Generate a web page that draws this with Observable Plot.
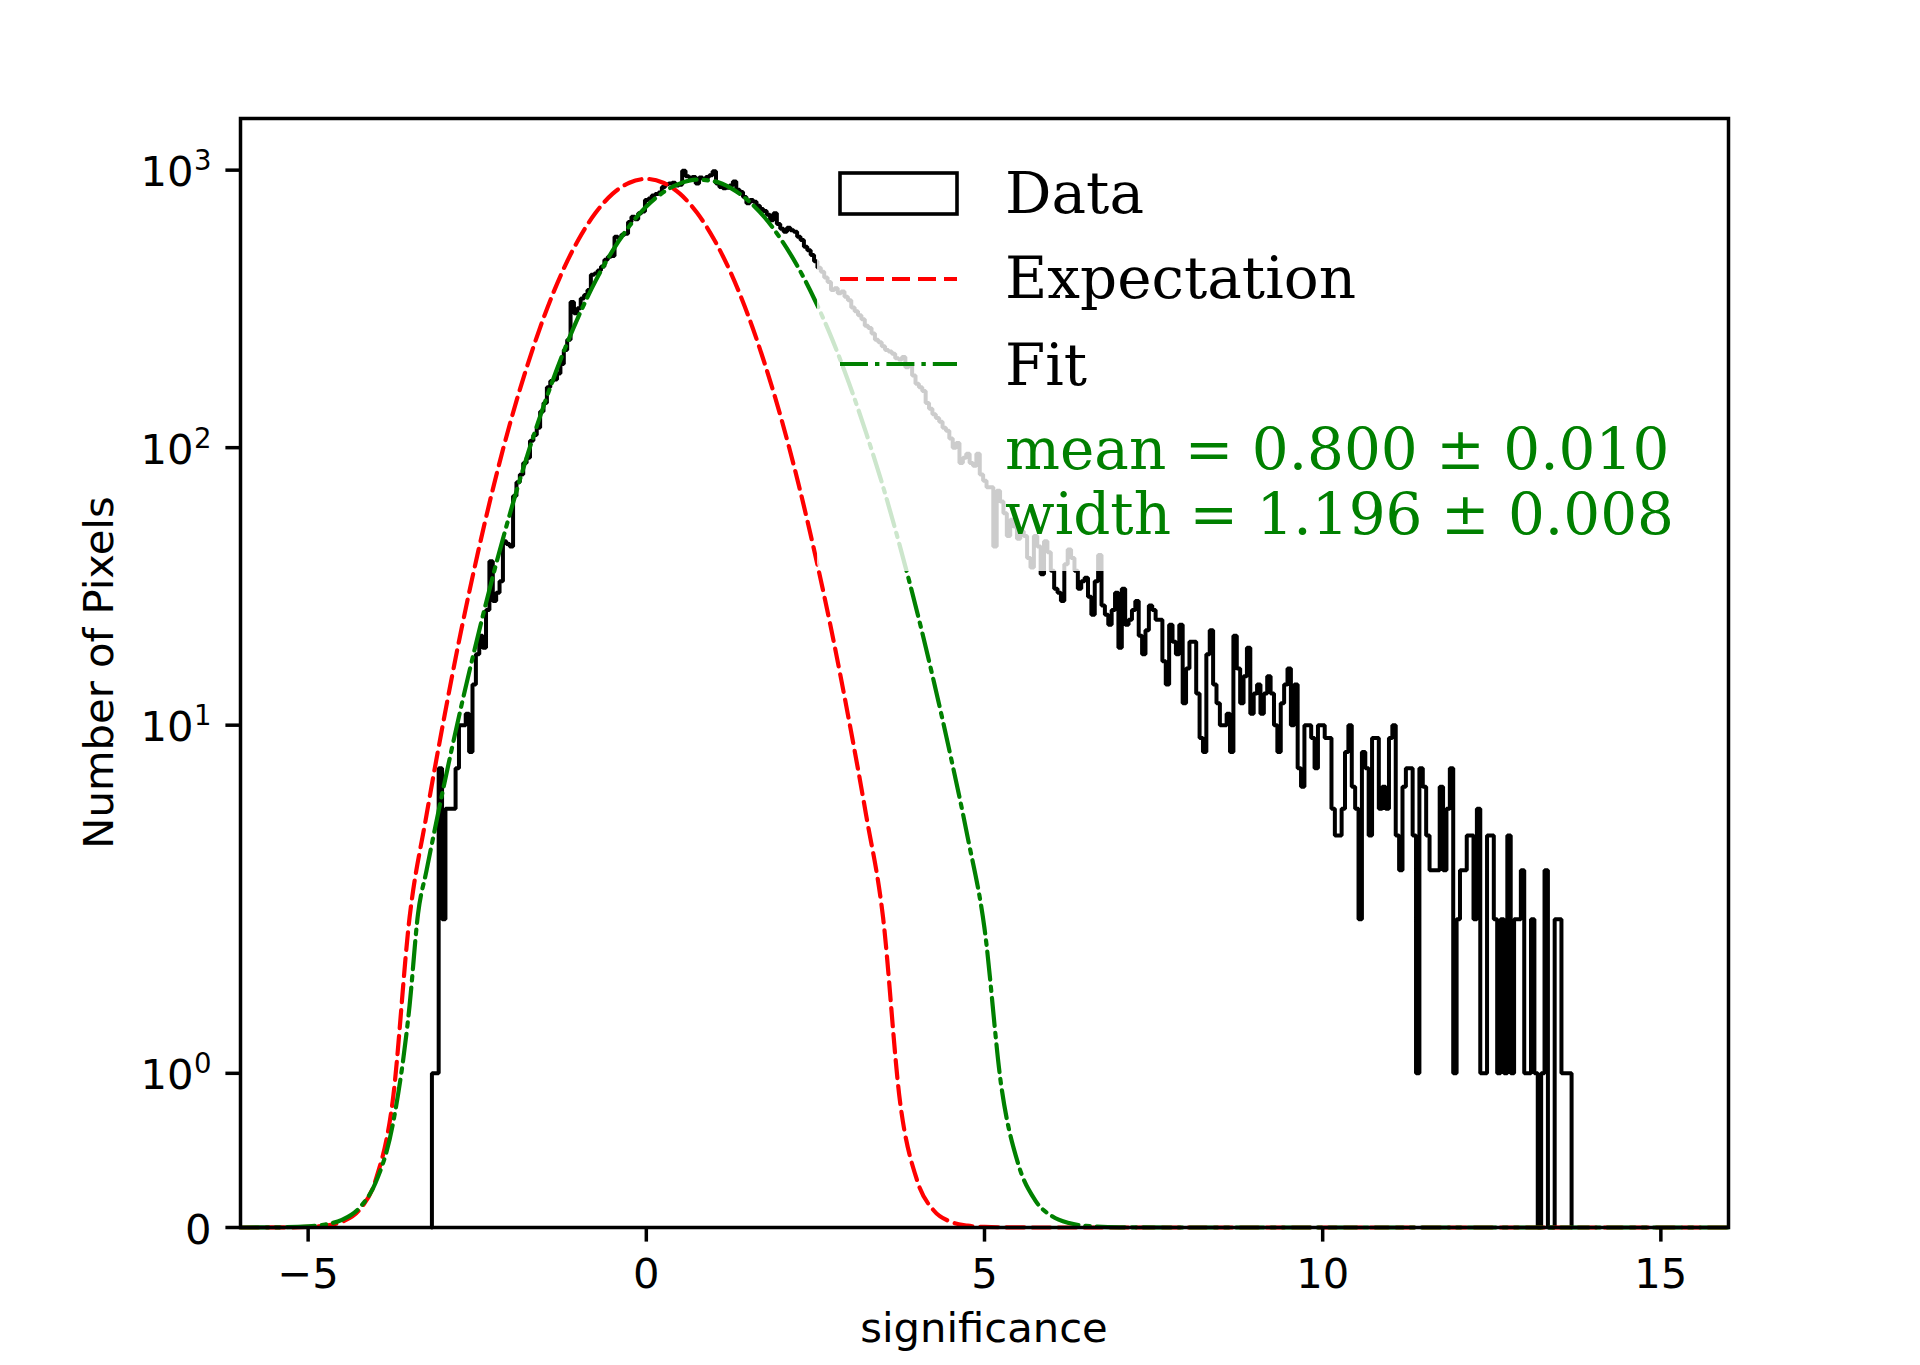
<!DOCTYPE html>
<html>
<head>
<meta charset="utf-8">
<script src="https://cdn.jsdelivr.net/npm/d3@7"></script>
<script src="https://cdn.jsdelivr.net/npm/@observablehq/plot@0.6"></script>
<style>
  html, body { margin: 0; padding: 0; background: #ffffff; }
  #chart svg { display: block; }
</style>
</head>
<body>
<div id="chart"></div>
<script>
// ---------------- data ----------------
const binStart = -3.17;
const binWidth = 0.05;
const counts = [
  1, 1, 7, 2, 5, 5, 5, 7, 10, 10,
  11, 8, 14, 18, 21, 19, 26, 39, 28, 30,
  33, 46, 45, 44, 67, 75, 80, 88, 92, 106,
  111, 118, 135, 145, 165, 174, 176, 185, 200, 225,
  245, 335, 305, 318, 345, 355, 370, 420, 424, 435,
  450, 475, 487, 490, 575, 570, 585, 590, 650, 680,
  665, 700, 710, 780, 790, 810, 820, 830, 870, 890,
  895, 900, 880, 885, 995, 950, 940, 945, 895, 940,
  930, 945, 958, 990, 895, 870, 860, 865, 880, 910,
  850, 835, 800, 760, 780, 770, 745, 725, 712, 690,
  660, 700, 640, 615, 600, 620, 607, 600, 575, 560,
  530, 515, 495, 470, 445, 430, 410, 395, 370, 375,
  360, 365, 350, 340, 320, 310, 300, 290, 275, 270,
  258, 245, 240, 232, 225, 222, 218, 210, 208, 212,
  195, 200, 182, 170, 165, 160, 145, 138, 132, 128,
  124, 118, 115, 108, 100, 104, 88, 92, 95, 88,
  86, 95, 80, 76, 72, 72, 44, 70, 64, 58,
  48, 55, 52, 47, 50, 48, 40, 37, 48, 44,
  35, 46, 42, 36, 31, 30, 28, 38, 43, 40,
  36, 31, 33, 34, 29, 25, 33, 41, 27, 25,
  23, 26, 30, 19, 31, 23, 24, 26, 28, 21,
  18, 22, 27, 26, 24, 24, 17, 14, 23, 20,
  18, 23, 12, 16, 20, 20, 13, 9, 8, 18,
  22, 14, 12, 10, 10, 11, 8, 21, 16, 12,
  15, 19, 11, 13, 14, 11, 13, 15, 13, 10,
  8, 12, 14, 16, 10, 14, 7, 6, 10, 10,
  9, 7, 10, 10, 9, 9, 5, 4, 4, 5,
  8, 10, 6, 5, 2, 8, 7, 4, 9, 9,
  5, 6, 5, 9, 10, 4, 3, 6, 7, 7,
  4, 1, 7, 6, 4, 3, 3, 3, 6, 3,
  5, 7, 1, 2, 3, 3, 4, 4, 2, 5,
  1, 1, 4, 4, 2, 1, 2, 1, 4, 1,
  2, 2, 3, 1, 1, 2, 1, 0, 1, 3,
  0, 0, 2, 2, 1, 1, 1
];

// Expectation curve (red dashed)
const expX = [-6, -5.5, -5, -4.75, -4.5, -4.25, -4, -3.75, -3.5, -3.25, -3, -2.75, -2.5, -2.25, -2, -1.75, -1.5, -1.25, -1, -0.75, -0.5, -0.25,
  0, 0.25, 0.5, 0.75, 1, 1.25, 1.5, 1.75, 2, 2.25, 2.5, 2.75, 3, 3.25, 3.5, 3.75, 4, 4.25, 4.5, 4.75, 5, 5.5, 6, 16];
const expY = [0, 0.0003, 0.0035, 0.012, 0.037, 0.11, 0.31, 0.82, 2.03, 4.74, 10.3, 21.2, 40.8, 74, 126, 201, 302, 426, 564, 702, 821, 901,
  930, 901, 821, 702, 564, 426, 302, 201, 126, 74, 40.8, 21.2, 10.3, 4.74, 2.03, 0.82, 0.31, 0.11, 0.037, 0.012, 0.0035, 0.0003, 0, 0];

// Fit curve (green dash-dot)
const fitX = [-6, -5.5, -5, -4.75, -4.5, -4.25, -4, -3.75, -3.5, -3.375, -3.25, -3, -2.75, -2.5, -2.25, -2, -1.75, -1.5, -1.25, -1, -0.75, -0.5, -0.25,
  0, 0.25, 0.5, 0.75, 1, 1.25, 1.5, 1.75, 2, 2.25, 2.5, 2.75, 3, 3.25, 3.5, 3.75, 4, 4.25, 4.5, 4.75, 5, 5.25, 5.5, 5.75, 6, 6.25, 6.5, 7, 8, 16];
const fitY = [0.0001, 0.0009, 0.0072, 0.0195, 0.05, 0.124, 0.294, 0.665, 1.44, 2.09, 2.99, 5.94, 11.3, 20.5, 35.8, 59.7, 95.3, 145.6, 213, 298, 399, 512, 629,
  740, 832, 896, 924, 912, 862, 779, 675, 559, 444, 337, 245, 170, 113, 72.4, 44.1, 25.8, 14.4, 7.72, 3.96, 1.94, 0.912, 0.41, 0.176, 0.0726, 0.0286, 0.0108, 0.0014, 0, 0];

const xDomain = [-6, 16];
const xTicks = [-5, 0, 5, 10, 15];
const yTicks = [0, 1, 10, 100, 1000];
const yMaxCount = 1535;
const xLabel = "significance";
const yLabel = "Number of Pixels";
const legendLabels = ["Data", "Expectation", "Fit"];
const fitLabels = ["mean = 0.800 \u00b1 0.010", "width = 1.196 \u00b1 0.008"];

// ---------------- symlog (matplotlib style, linthresh 2, linscale 1) ----------------
const LINTHRESH = 2;
const LINSCALE_ADJ = 1 / (1 - 1 / 10);
const symlog = v => v <= LINTHRESH ? v * LINSCALE_ADJ / LINTHRESH : LINSCALE_ADJ + Math.log10(v / LINTHRESH);

// ---------------- tables built from the arrays ----------------
const nBins = counts.length;
const hist = [{x: binStart, y: 0}]
  .concat(counts.map((c, i) => ({x: binStart + i * binWidth, y: c})))
  .concat([{x: binStart + nBins * binWidth, y: counts[nBins - 1]}, {x: binStart + nBins * binWidth, y: 0}]);
const expData = expX.map((x, i) => ({x, y: expY[i]}));
const fitData = fitX.map((x, i) => ({x, y: fitY[i]}));

const fmtX = d => d < 0 ? "\u2212" + (-d) : String(d);
const powTicks = yTicks.filter(d => d > 0);

const RED = "#ff0000", GREEN = "#008000";
const FS = 41.7;

const chart = Plot.plot({
  width: 1920,
  height: 1365,
  marginLeft: 240,
  marginRight: 192,
  marginTop: 118,
  marginBottom: 138,
  style: {background: "white", fontFamily: "'DejaVu Sans', sans-serif", fontSize: FS + "px", overflow: "visible", color: "black"},
  x: {domain: xDomain, axis: null},
  y: {domain: [0, symlog(yMaxCount)], transform: symlog, axis: null},
  marks: [
    Plot.line(hist, {x: "x", y: "y", curve: "step-after", stroke: "black", strokeWidth: 4, strokeLinejoin: "miter"}),
    Plot.line(expData, {x: "x", y: "y", curve: "monotone-x", stroke: RED, strokeWidth: 4.2, strokeDasharray: "18,8"}),
    Plot.line(fitData, {x: "x", y: "y", curve: "monotone-x", stroke: GREEN, strokeWidth: 4.2, strokeDasharray: "28,7,4.4,7"}),
    Plot.frame({stroke: "black", strokeWidth: 3.5}),
    Plot.axisX(xTicks, {tickSize: 14.6, tickFormat: () => "", label: null, strokeWidth: 3.5}),
    Plot.axisY(yTicks, {tickSize: 14.6, tickFormat: () => "", label: null, strokeWidth: 3.5}),
    Plot.text(xTicks, {x: d => d, frameAnchor: "bottom", text: fmtX, lineAnchor: "bottom", dy: 60, fontSize: FS, fill: "black"}),
    Plot.text([0], {y: d => d, frameAnchor: "left", text: () => "0", textAnchor: "end", lineAnchor: "bottom", dx: -29, dy: 16, fontSize: FS, fill: "black"}),
    Plot.text(powTicks, {y: d => d, frameAnchor: "left", text: () => "10", textAnchor: "end", lineAnchor: "bottom", dx: -47, dy: 16, fontSize: FS, fill: "black"}),
    Plot.text(powTicks, {y: d => d, frameAnchor: "left", text: d => String(Math.round(Math.log10(d))), textAnchor: "end", lineAnchor: "bottom", dx: -29, dy: 0, fontSize: 27.5, fill: "black"})
  ]
});
document.getElementById("chart").appendChild(chart);

// ---------------- annotation layer: axis titles and legend ----------------
const svg = d3.select(chart);
const ann = svg.append("g");

ann.append("text").attr("x", 984).attr("y", 1342).attr("text-anchor", "middle")
  .attr("font-family", "'DejaVu Sans', sans-serif").attr("font-size", FS).attr("fill", "black").text(xLabel);
ann.append("text").attr("transform", "translate(113,672.5) rotate(-90)").attr("text-anchor", "middle")
  .attr("font-family", "'DejaVu Sans', sans-serif").attr("font-size", FS).attr("fill", "black").text(yLabel);

// legend: translucent white box
const LG = {left: 817, top: 147, right: 1699, bottom: 571, hx0: 840, hx1: 957, tx: 1005, fs: 58};
ann.append("rect").attr("x", LG.left).attr("y", LG.top).attr("width", LG.right - LG.left).attr("height", LG.bottom - LG.top)
  .attr("rx", 8).attr("fill", "white").attr("fill-opacity", 0.8);
ann.append("rect").attr("x", LG.hx0).attr("y", 173).attr("width", LG.hx1 - LG.hx0).attr("height", 41)
  .attr("fill", "none").attr("stroke", "black").attr("stroke-width", 3.6);
ann.append("line").attr("x1", LG.hx0).attr("x2", LG.hx1).attr("y1", 279).attr("y2", 279)
  .attr("stroke", RED).attr("stroke-width", 4.2).attr("stroke-dasharray", "18,8");
ann.append("line").attr("x1", LG.hx0).attr("x2", LG.hx1).attr("y1", 364).attr("y2", 364)
  .attr("stroke", GREEN).attr("stroke-width", 4.2).attr("stroke-dasharray", "28,7,4.4,7");
const legendBaselines = [213, 298, 385];
legendLabels.forEach((t, i) => {
  ann.append("text").attr("x", LG.tx).attr("y", legendBaselines[i]).attr("text-anchor", "start")
    .attr("font-family", "'DejaVu Serif', serif").attr("font-size", LG.fs).attr("fill", "black").text(t);
});
const fitBaselines = [469, 534];
fitLabels.forEach((t, i) => {
  ann.append("text").attr("x", LG.tx).attr("y", fitBaselines[i]).attr("text-anchor", "start")
    .attr("font-family", "'DejaVu Serif', serif").attr("font-size", LG.fs).attr("fill", GREEN).text(t);
});
</script>
</body>
</html>
